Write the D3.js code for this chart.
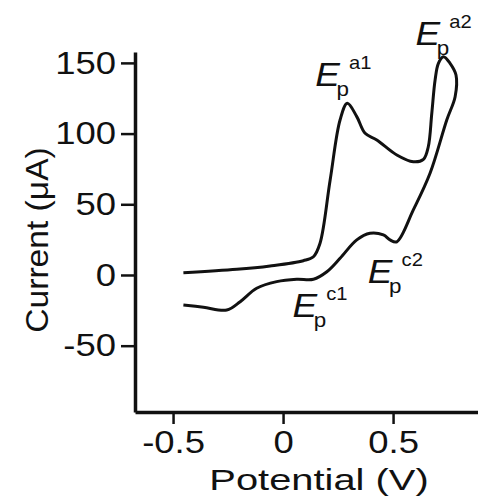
<!DOCTYPE html>
<html>
<head>
<meta charset="utf-8">
<script src="https://cdn.jsdelivr.net/npm/d3@7"></script>
<style>
  body { margin: 0; background: #fff; }
  svg text { font-family: "Liberation Sans", Arial, sans-serif; fill: #111; }
  .axis path, .axis line { stroke: #111; }
</style>
</head>
<body>
<div class="chart"></div>
<script>
(function() {

    // forward (anodic) scan
    var forwardPotential = [-0.453, -0.21, -0.059, 0.092, 0.138, 0.168, 0.214, 0.259, 0.292, 0.335, 0.373, 0.426, 0.517, 0.592, 0.638, 0.66, 0.676, 0.691, 0.706, 0.729, 0.759, 0.786];
    var forwardCurrent   = [1.6, 4.0, 6.4, 10.1, 12.9, 22.4, 67.2, 109.6, 121.4, 112, 100.2, 95.5, 84.9, 80.1, 81.8, 90.7, 114.4, 137.9, 149.7, 154.4, 149.7, 141.4];

    // reverse (cathodic) scan
    var reversePotential = [0.786, 0.782, 0.744, 0.668, 0.592, 0.517, 0.486, 0.456, 0.395, 0.335, 0.259, 0.199, 0.138, 0.062, -0.029, -0.12, -0.195, -0.256, -0.362, -0.453];
    var reverseCurrent   = [141.4, 126.1, 109.6, 71.9, 46, 23.5, 24.8, 28.3, 29.5, 24.8, 11.8, 2.3, -3.0, -3.0, -4.7, -9.4, -18.9, -24.8, -22.8, -21.2];

    var xTicks = [-0.5, 0, 0.5];
    var xTickLabels = ['-0.5', '0', '0.5'];
    var yTicks = [-50, 0, 50, 100, 150];
    var yTickLabels = ['-50', '0', '50', '100', '150'];

    // peak labels: superscript and the data point they sit by
    var peakNames = ['a1', 'a2', 'c1', 'c2'];
    var peakPotential = [0.292, 0.729, 0.138, 0.517];
    var peakCurrent = [121.4, 154.4, -3.0, 23.5];

    var W = 478, H = 499;
    var stretch = 1.14;   // the original lettering is a bit wide

    var svg = d3.select('.chart')
        .append('svg')
        .attr('width', W)
        .attr('height', H);

    var x = d3.scaleLinear().domain([-0.673, 0.886]).range([135, 478]);
    var y = d3.scaleLinear().domain([-96.9, 157.7]).range([412, 52]);

    var xAxis = d3.axisBottom(x)
        .tickValues(xTicks)
        .tickFormat(function(d, i) { return xTickLabels[i]; })
        .tickSizeInner(12)
        .tickSizeOuter(0)
        .tickPadding(6);

    var yAxis = d3.axisLeft(y)
        .tickValues(yTicks)
        .tickFormat(function(d, i) { return yTickLabels[i]; })
        .tickSizeInner(14)
        .tickSizeOuter(0)
        .tickPadding(4);

    var gx = svg.append('g')
        .attr('class', 'axis')
        .attr('transform', 'translate(0,412)')
        .call(xAxis);

    var gy = svg.append('g')
        .attr('class', 'axis')
        .attr('transform', 'translate(135,0)')
        .call(yAxis);

    gx.select('.domain').attr('stroke-width', 3.5);
    gy.select('.domain').attr('stroke-width', 3.5);
    svg.selectAll('.axis .tick line').attr('stroke-width', 2.5);
    svg.selectAll('.axis .tick text')
        .attr('font-size', 32)
        .attr('font-family', '"Liberation Sans", Arial, sans-serif')
        .attr('fill', '#111');

    gx.selectAll('.tick text')
        .attr('transform', 'scale(' + stretch + ',1)');
    gy.selectAll('.tick text')
        .attr('x', 0)
        .attr('transform', 'translate(-19,0) scale(' + stretch + ',1)');

    // axis titles
    svg.append('text')
        .attr('transform', 'translate(319,490) scale(1.33,1)')
        .attr('text-anchor', 'middle')
        .attr('font-size', 30)
        .text('Potential (V)');

    svg.append('text')
        .attr('transform', 'translate(48,240) rotate(-90) scale(1.05,1)')
        .attr('text-anchor', 'middle')
        .attr('font-size', 32)
        .text('Current (\u03bcA)');

    // curves
    var line = d3.line()
        .x(function(d) { return x(d[0]); })
        .y(function(d) { return y(d[1]); })
        .curve(d3.curveCatmullRom.alpha(0.5));

    var fwd = forwardPotential.map(function(v, i) { return [v, forwardCurrent[i]]; });
    var rev = reversePotential.map(function(v, i) { return [v, reverseCurrent[i]]; });

    svg.append('path')
        .datum(fwd.concat(rev.slice(1)))
        .attr('fill', 'none')
        .attr('stroke', '#111')
        .attr('stroke-width', 3)
        .attr('stroke-linejoin', 'round')
        .attr('d', line);

    // peak labels, offset from their peaks
    var offsets = {
        a1: [-32, -17],
        a2: [-28, -12],
        c1: [-21, 38],
        c2: [-29, 41]
    };

    peakNames.forEach(function(name, i) {
        var px = x(peakPotential[i]) + offsets[name][0];
        var py = y(peakCurrent[i]) + offsets[name][1];
        var t = svg.append('text')
            .attr('transform', 'translate(' + px + ',' + py + ') scale(1.12,1)')
            .attr('font-size', 33);
        t.append('tspan').attr('font-style', 'italic').text('E');
        t.append('tspan').attr('font-size', 20).attr('dx', -3).attr('dy', 10).text('p');
        t.append('tspan').attr('font-size', 18).attr('dx', 0).attr('dy', -27).text(name);
    });

})();
</script>
</body>
</html>
